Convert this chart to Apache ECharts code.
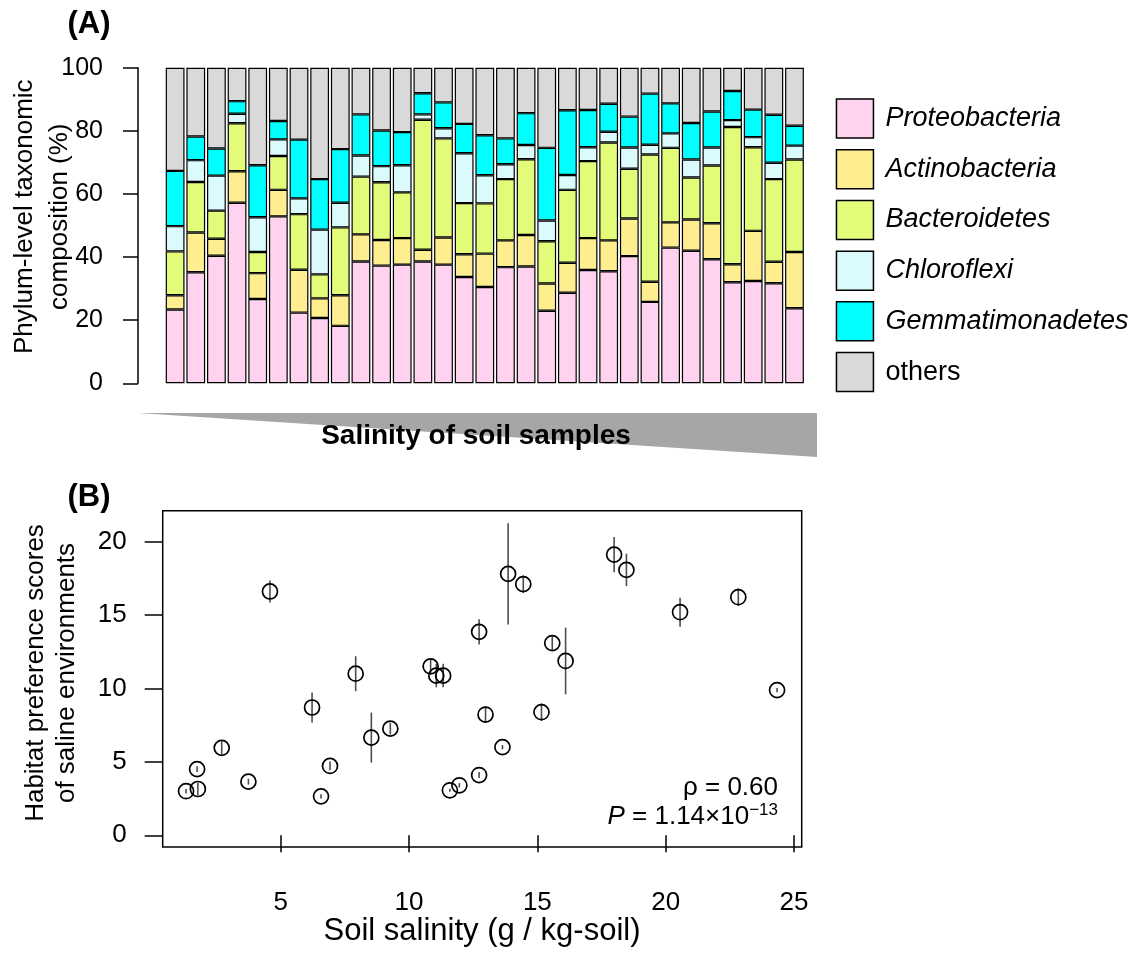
<!DOCTYPE html>
<html>
<head>
<meta charset="utf-8">
<script src="https://cdn.jsdelivr.net/npm/echarts@6/dist/echarts.min.js"></script>
<style>
html,body{margin:0;padding:0;background:#fff;}
#chart{width:1139px;height:956px;}
</style>
</head>
<body>
<div id="chart"></div>
<script>
// ---------- Panel A data (percent composition per soil sample, ordered by salinity) ----------
const samples = ['S01','S02','S03','S04','S05','S06','S07','S08','S09','S10','S11','S12','S13','S14','S15','S16',
                 'S17','S18','S19','S20','S21','S22','S23','S24','S25','S26','S27','S28','S29','S30','S31'];
const proteobacteria   = [23.4,35.2,40.4,57.2,26.7,52.9,22.4,20.7,18.2,38.6,37.3,37.6,38.6,37.6,33.7,30.5,36.8,37.0,23.0,28.7,35.9,35.5,40.3,25.8,43.0,42.0,39.3,32.0,32.4,31.7,23.8];
const actinobacteria   = [4.5,12.6,5.4,10.0,8.2,8.4,13.6,6.2,9.7,8.6,8.1,8.4,3.7,8.6,7.2,10.6,8.5,10.0,8.6,9.5,10.1,9.8,11.9,6.4,8.0,9.9,11.4,5.7,15.9,6.8,17.8];
const bacteroidetes    = [13.9,16.0,8.9,15.2,6.7,10.7,17.6,7.6,21.5,18.3,18.3,14.5,41.2,31.4,16.2,15.9,19.4,24.0,13.4,23.1,24.4,31.0,15.8,40.3,23.6,13.3,18.3,43.5,26.5,26.2,29.3];
const chloroflexi      = [8.0,6.9,11.1,3.0,11.0,5.3,5.0,14.2,7.8,6.7,5.1,8.6,1.7,3.2,15.8,8.9,4.7,4.5,6.6,4.7,4.4,3.4,6.7,3.1,4.6,5.7,5.7,2.2,3.2,5.2,4.4];
const gemmatimonadetes = [17.5,7.5,8.6,4.0,16.5,5.8,18.6,16.0,17.0,13.0,11.3,10.5,6.7,8.2,9.3,12.7,8.2,10.1,23.0,20.5,11.8,8.9,9.8,16.2,9.5,11.6,11.4,9.2,8.7,15.2,6.3];
const others           = [32.7,21.8,25.6,10.6,30.9,16.9,22.8,35.3,25.8,14.8,19.9,20.4,8.1,11.0,17.8,21.4,22.4,14.4,25.4,13.5,13.4,11.4,15.5,8.2,11.3,17.5,13.9,7.4,13.3,14.9,18.4];
const phylumNames = ['Proteobacteria','Actinobacteria','Bacteroidetes','Chloroflexi','Gemmatimonadetes','others'];
const compTicks = [0,20,40,60,80,100];

// ---------- Panel B data ----------
const salinity = [1.31,1.77,1.74,2.70,3.74,4.58,6.57,6.22,6.92,7.92,8.53,9.27,10.84,11.06,11.33,11.59,11.96,12.73,12.73,12.98,13.86,14.45,13.64,15.58,16.10,15.16,17.99,18.47,20.56,22.83,24.34];
const score    = [3.00,3.15,4.50,5.95,3.65,16.60,2.65,8.70,4.72,11.00,6.65,7.26,11.50,10.87,10.87,3.06,3.40,13.85,4.10,8.22,17.80,17.10,6.00,13.08,11.87,8.38,19.11,18.07,15.19,16.21,9.88];
const scoreErr = [0.15,0.43,0.20,0.45,0.20,0.75,0.15,1.02,0.30,1.19,1.70,0.40,0.50,0.80,0.80,0.10,0.15,0.86,0.20,0.55,3.45,0.60,0.15,0.45,2.27,0.60,1.20,1.10,0.99,0.60,0.15];
const salinityTicks = [5,10,15,20,25];
const scoreTicks = [0,5,10,15,20];

const FONT = 'Liberation Sans, Arial, Helvetica, sans-serif';
const colors = ['#FFD2F0','#FFEE8F','#E2FC7A','#DAFAFC','#00FFFF','#D9D9D9'];
const phylumData = [proteobacteria, actinobacteria, bacteroidetes, chloroflexi, gemmatimonadetes, others];

const barSeries = phylumNames.map((name, i) => ({
  name: name,
  type: 'bar',
  stack: 'comp',
  xAxisIndex: 0, yAxisIndex: 0,
  data: phylumData[i],
  barCategoryGap: '9%',
  itemStyle: { color: colors[i], borderColor: '#000', borderWidth: 1.2 },
  emphasis: { disabled: true }
}));

const chart = echarts.init(document.getElementById('chart'), null, { renderer: 'canvas' });
const option = {
  animation: false,
  backgroundColor: '#fff',
  textStyle: { fontFamily: FONT },
  grid: [
    { left: 164.8, top: 67.7, width: 640, height: 315.6 },
    { left: 162.7, top: 510.7, width: 639, height: 336.3, show: true, borderColor: '#000', borderWidth: 1.5, backgroundColor: 'transparent' }
  ],
  xAxis: [
    { type: 'category', gridIndex: 0, data: samples, show: false },
    {
      type: 'value', gridIndex: 1, min: 0.4, max: 25.3,
      axisLine: { show: false },
      axisTick: { show: true, customValues: salinityTicks, length: 17, inside: false, lineStyle: { color: '#000', width: 1.5 } },
      axisLabel: { customValues: salinityTicks, margin: 43, fontSize: 26, color: '#000', fontFamily: FONT },
      splitLine: { show: false }
    }
  ],
  yAxis: [
    {
      type: 'value', gridIndex: 0, min: 0, max: 100, interval: 20, offset: 26.8,
      axisLine: { show: true, lineStyle: { color: '#000', width: 1.5 } },
      axisTick: { show: true, length: 15, inside: false, lineStyle: { color: '#000', width: 1.5 } },
      axisLabel: { margin: 35, fontSize: 25, color: '#000', fontFamily: FONT,
                   customValues: compTicks },
      splitLine: { show: false }
    },
    {
      type: 'value', gridIndex: 1, min: -0.8, max: 22.1,
      axisLine: { show: false },
      axisTick: { show: true, customValues: scoreTicks, length: 18, inside: false, lineStyle: { color: '#000', width: 1.5 } },
      axisLabel: { customValues: scoreTicks, margin: 36, fontSize: 26, color: '#000', fontFamily: FONT },
      splitLine: { show: false }
    }
  ],
  legend: {
    data: phylumNames,
    orient: 'vertical',
    left: 835.7, top: 98.3,
    padding: 0,
    itemWidth: 37, itemHeight: 39, itemGap: 10.2,
    icon: 'rect',
    selectedMode: false,
    itemStyle: { borderColor: '#000', borderWidth: 1.5 },
    formatter: function (name) { return name === 'others' ? '{n|' + name + '}' : '{i|' + name + '}'; },
    textStyle: {
      color: '#000', fontSize: 27, fontFamily: FONT,
      rich: {
        i: { fontStyle: 'italic', fontSize: 27, fontFamily: FONT, color: '#000', padding: [0, 0, 0, 7] },
        n: { fontSize: 27, fontFamily: FONT, color: '#000', padding: [0, 0, 0, 7] }
      }
    }
  },
  series: barSeries.concat([
    {
      name: 'err', type: 'custom', xAxisIndex: 1, yAxisIndex: 1,
      data: salinity.map((x, i) => [x, score[i], scoreErr[i]]),
      encode: { x: 0, y: 1 },
      renderItem: function (params, api) {
        const x = api.value(0), y = api.value(1), e = api.value(2);
        const p1 = api.coord([x, y - e]);
        const p2 = api.coord([x, y + e]);
        return { type: 'line', shape: { x1: p1[0], y1: p1[1], x2: p2[0], y2: p2[1] },
                 style: { stroke: '#4d4d4d', lineWidth: 1.6 } };
      },
      z: 3, silent: true
    },
    {
      name: 'score', type: 'scatter', xAxisIndex: 1, yAxisIndex: 1,
      data: salinity.map((x, i) => [x, score[i]]),
      symbol: 'circle', symbolSize: 15,
      itemStyle: { color: 'rgba(0,0,0,0)', borderColor: '#000', borderWidth: 1.7, opacity: 1 },
      emphasis: { disabled: true },
      z: 4, silent: true
    }
  ]),
  graphic: [
    { type: 'text', x: 89, y: 24, style: { text: '(A)', font: 'bold 31px ' + FONT, fill: '#000', textAlign: 'center', textVerticalAlign: 'middle', align: 'center', verticalAlign: 'middle' } },
    { type: 'text', x: 89, y: 497, style: { text: '(B)', font: 'bold 31px ' + FONT, fill: '#000', textAlign: 'center', textVerticalAlign: 'middle', align: 'center', verticalAlign: 'middle' } },
    { type: 'text', x: 42.5, y: 216.7, rotation: Math.PI / 2,
      style: { text: 'Phylum-level taxonomic\ncomposition (%)', font: '26px ' + FONT, lineHeight: 35, fill: '#000', textAlign: 'center', textVerticalAlign: 'middle', align: 'center', verticalAlign: 'middle' } },
    { type: 'text', x: 51, y: 673, rotation: Math.PI / 2,
      style: { text: 'Habitat preference scores\nof saline environments', font: '26px ' + FONT, lineHeight: 31, fill: '#000', textAlign: 'center', textVerticalAlign: 'middle', align: 'center', verticalAlign: 'middle' } },
    { type: 'text', x: 482, y: 931,
      style: { text: 'Soil salinity (g / kg-soil)', font: '31px ' + FONT, fill: '#000', textAlign: 'center', textVerticalAlign: 'middle', align: 'center', verticalAlign: 'middle' } },
    { type: 'polygon', shape: { points: [[138, 413], [817, 413], [817, 457]] }, style: { fill: '#A6A6A6' }, z: 1 },
    { type: 'text', x: 476, y: 436, z: 2,
      style: { text: 'Salinity of soil samples', font: 'bold 28px ' + FONT, fill: '#000', textAlign: 'center', textVerticalAlign: 'middle', align: 'center', verticalAlign: 'middle' } },
    { type: 'text', x: 778, y: 788,
      style: { text: 'ρ = 0.60', font: '26px ' + FONT, fill: '#000', textAlign: 'right', textVerticalAlign: 'middle', align: 'right', verticalAlign: 'middle' } },
    { type: 'text', x: 778, y: 817,
      style: {
        text: '{i|P} = 1.14×10{s|−13}', font: '26px ' + FONT, fill: '#000', textAlign: 'right', textVerticalAlign: 'middle', align: 'right', verticalAlign: 'middle',
        rich: {
          i: { fontStyle: 'italic', fontSize: 26, fontFamily: FONT, fill: '#000' },
          s: { fontSize: 17, fontFamily: FONT, fill: '#000', verticalAlign: 'top', lineHeight: 30, padding: [0, 0, 8, 0] }
        }
      } }
  ]
};
chart.setOption(option);
</script>
</body>
</html>
